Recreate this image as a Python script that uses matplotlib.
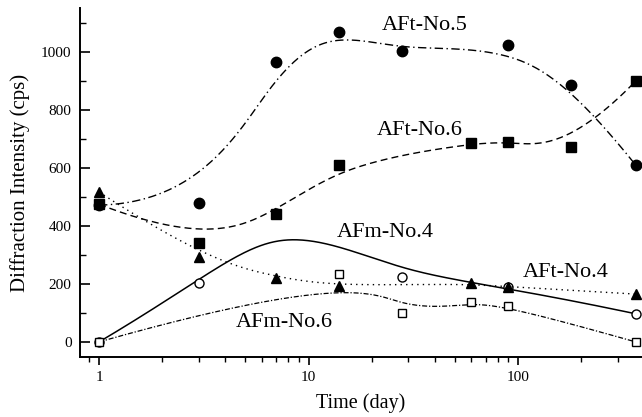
import numpy as np
import matplotlib
matplotlib.use("Agg")
import matplotlib.pyplot as plt
from matplotlib.ticker import LogLocator, NullFormatter, MultipleLocator

# 측정 시점 (day)
t_aft5 = [1, 3, 7, 14, 28, 90, 180, 365]
aft5 = [472, 479, 965, 1069, 1003, 1024, 886, 610]

t_aft6 = [1, 3, 7, 14, 60, 90, 180, 365]
aft6 = [475, 341, 441, 610, 686, 690, 672, 900]

t_aft4 = [1, 3, 7, 14, 60, 90, 365]
aft4 = [517, 293, 221, 192, 203, 190, 165]

t_afm4 = [1, 3, 7, 28, 90, 365]
afm4 = [0, 204, 445, 224, 190, 97]

t_afm6 = [1, 14, 28, 60, 90, 365]
afm6 = [0, 234, 100, 138, 124, 0]


def bspline(xs, ys, k=3, n=400):
    """데이터 점을 control point로 쓰는 clamped B-spline (log x 공간)"""
    P = np.column_stack([np.log10(xs), ys])
    m = len(P)
    k = min(k, m - 1)
    inner = np.linspace(0, 1, m - k + 1)
    knots = np.concatenate([np.zeros(k), inner, np.ones(k)])
    u = np.linspace(0, 1 - 1e-9, n)
    N = np.zeros((n, len(knots) - 1))
    for i in range(len(knots) - 1):
        N[:, i] = (knots[i] <= u) & (u < knots[i + 1])
    for d in range(1, k + 1):
        Nn = np.zeros((n, len(knots) - 1 - d))
        for i in range(len(knots) - 1 - d):
            a = knots[i + d] - knots[i]
            b = knots[i + d + 1] - knots[i + 1]
            term = 0
            if a > 0:
                term = term + (u - knots[i]) / a * N[:, i]
            if b > 0:
                term = term + (knots[i + d + 1] - u) / b * N[:, i + 1]
            Nn[:, i] = term
        N = Nn
    C = N[:, :m] @ P
    return 10 ** C[:, 0], C[:, 1]


plt.rcParams['font.family'] = ['Liberation Serif', 'DejaVu Serif']

fig = plt.figure(figsize=(6.42, 4.17), dpi=100)
ax = fig.add_axes([0.1246, 0.1439, 0.8754, 0.8369])

# AFm (open markers) 먼저
x, y = bspline(t_afm4, afm4)
ax.plot(x, y, color='black', lw=1.1, ls='-')
ax.plot(t_afm4, afm4, 'o', ms=6.5, mfc='white', mec='black', mew=1.0)

x, y = bspline(t_afm6, afm6)
ax.plot(x, y, color='black', lw=0.9, ls=(0, (4, 1.5, 1, 1.5)))
ax.plot(t_afm6, afm6, 's', ms=6, mfc='white', mec='black', mew=1.0)

x, y = bspline(t_aft4, aft4)
ax.plot(x, y, color='black', lw=1.0, ls=(0, (1, 3)))
ax.plot(t_aft4, aft4, '^', ms=7.5, color='black')

x, y = bspline(t_aft6, aft6)
ax.plot(x, y, color='black', lw=1.0, ls=(0, (5, 3)))
ax.plot(t_aft6, aft6, 's', ms=6.5, color='black')

x, y = bspline(t_aft5, aft5)
ax.plot(x, y, color='black', lw=1.0, ls=(0, (6, 2.5, 1, 2.5)))
ax.plot(t_aft5, aft5, 'o', ms=7.5, color='black')

# 라벨
lab_kw = dict(fontsize=16, ha='center', va='center')
ax.text(36, 1093, 'AFt-No.5', **lab_kw)
ax.text(34, 731, 'AFt-No.6', **lab_kw)
ax.text(23.2, 379, 'AFm-No.4', **lab_kw)
ax.text(169, 241, 'AFt-No.4', **lab_kw)
ax.text(7.64, 66, 'AFm-No.6', **lab_kw)

ax.set_xscale('log')
ax.set_xlim(0.811, 391)
ax.set_ylim(-52, 1152)
ax.set_xticks([1, 10, 100])
ax.set_xticklabels(['1', '10', '100'])
ax.xaxis.set_minor_locator(LogLocator(base=10, subs=np.arange(2, 10)))
ax.xaxis.set_minor_formatter(NullFormatter())
ax.yaxis.set_major_locator(MultipleLocator(200))
ax.yaxis.set_minor_locator(MultipleLocator(100))

ax.spines['top'].set_visible(False)
ax.spines['right'].set_visible(False)
ax.spines['left'].set_linewidth(1.4)
ax.spines['bottom'].set_linewidth(1.4)
ax.tick_params(axis='x', which='major', direction='out', length=6, width=1.2, labelsize=11, pad=4)
ax.tick_params(axis='x', which='minor', direction='out', length=3.5, width=1.0)
ax.tick_params(axis='y', which='major', direction='in', length=7, width=1.2, labelsize=11, pad=6)
ax.tick_params(axis='y', which='minor', direction='in', length=4, width=1.0)

ax.set_xlabel('Time (day)', fontsize=14.5, labelpad=7)
ax.set_ylabel('Diffraction Intensity (cps)', fontsize=15, labelpad=8)

fig.savefig('out.png', dpi=100)
